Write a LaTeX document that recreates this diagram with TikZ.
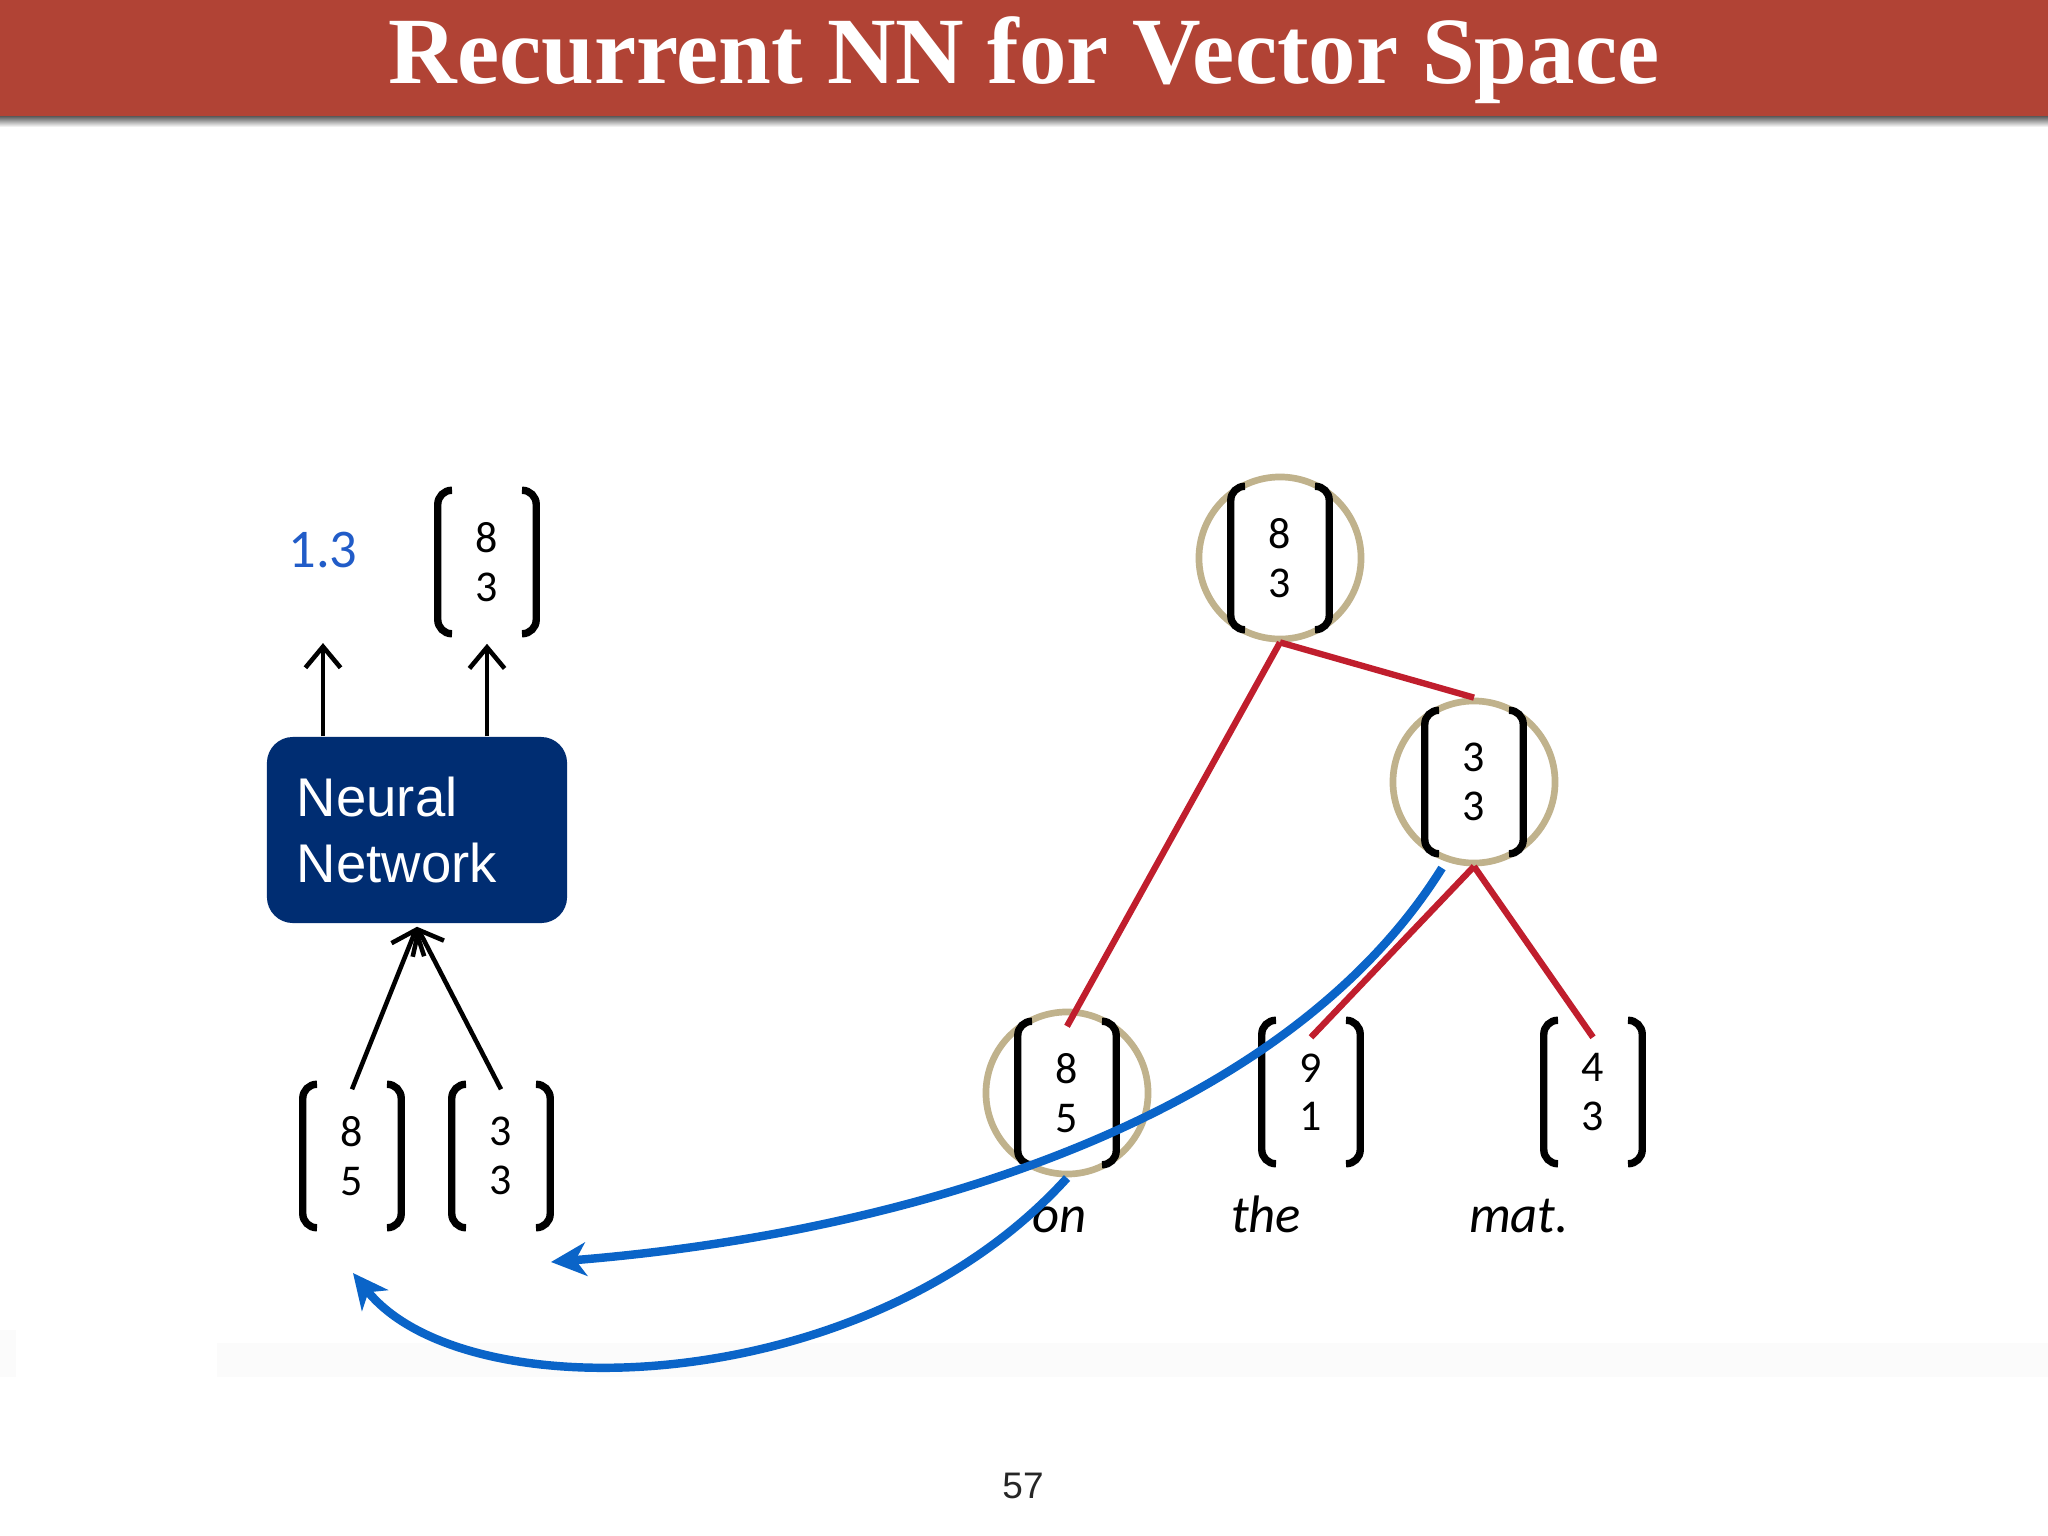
\documentclass[tikz,border=0pt]{standalone}
\usepackage{fontspec}
\setmainfont{Carlito}
\newfontfamily\helv{Liberation Sans}
\newfontfamily\serifbold{Liberation Serif}
\usetikzlibrary{arrows.meta, calc}
\definecolor{titlered}{RGB}{177,67,53}
\definecolor{nnblue}{RGB}{0,45,114}
\definecolor{scoreblue}{RGB}{33,92,200}
\definecolor{feedblue}{RGB}{10,100,200}
\definecolor{treered}{RGB}{192,30,45}
\definecolor{ringtan}{RGB}{192,178,140}

\begin{document}
\begin{tikzpicture}[x=0.01cm, y=-0.01cm, >=Stealth,
  vec/.style={minimum width=0.97cm, minimum height=1.42cm, inner sep=0pt, align=center,
    font=\fontsize{12.5}{13.8}\selectfont},
  brk/.style={line width=2.1pt, rounded corners=4pt},
  ring/.style={circle, draw=ringtan, line width=1.9pt, minimum size=1.62cm, inner sep=0pt},
  edge/.style={treered, line width=1.8pt},
  flow/.style={-{Straight Barb[length=6pt, width=10pt]}, line width=1.3pt},
  feed/.style={-{Stealth[length=10pt, width=9.5pt, inset=3pt]}, feedblue, line width=2.4pt},
  word/.style={anchor=base, font=\itshape\fontsize{15}{18}\selectfont}]
  \useasboundingbox (0,0) rectangle (2048,1536);
  \fill[white] (0,0) rectangle (2048,1536);
  % Title bar
  \fill[titlered] (0,0) rectangle (2048,116);
  \shade[top color=black!65, bottom color=white] (0,116) rectangle (2048,127);
  \node[anchor=base, text=white, font=\serifbold\bfseries\fontsize{27}{31}\selectfont]
    (title) at (1024,83) {Recurrent NN for Vector Space};
  \fill[black!1.5] (217,1343) rectangle (2048,1377);
  \fill[black!1.5] (0,1330) rectangle (16,1377);
  \node[font=\helv\fontsize{10.5}{12}\selectfont, text=black!85] (page) at (1023,1486) {57};

  % Network
  \node[fill=nnblue, rounded corners=0.26cm, minimum width=3cm, minimum height=1.86cm,
    text width=2.4cm, inner xsep=0.3cm, align=left, text=white,
    font=\helv\fontsize{15.5}{18.5}\selectfont] (nn) at (417,830) {Neural\\Network};
  \node[text=scoreblue, font=\fontsize{15.5}{18}\selectfont] (score) at (323,550) {1.3};
  \node[vec] (out83) at (487,562) {8\\3};
  \node[vec] (in85) at (352,1156) {8\\5};
  \node[vec] (in33) at (501,1156) {3\\3};
  \draw[flow] (nn.north -| score) -- ([yshift=-0.93cm]score.center);
  \draw[flow] (nn.north -| out83) -- ([yshift=-0.1cm]out83.south);
  \draw[flow] ([yshift=-0.05cm]in85.north) -- ([yshift=-0.03cm]nn.south);
  \draw[flow] ([yshift=-0.05cm]in33.north) -- ([yshift=-0.03cm]nn.south);

  % Tree
  \node[vec] (root) at (1280,558) {8\\3};
  \node[vec] (mid) at (1474,782) {3\\3};
  \node[vec] (on) at (1067,1093) {8\\5};
  \node[vec] (the) at (1311,1092) {9\\1};
  \node[vec] (mat) at (1593,1092) {4\\3};
  \node[word] (wOn) at (1060,1232) {on};
  \node[word] (wThe) at (1266,1232) {the};
  \node[word] (wMat) at (1519,1232) {mat.};
  \foreach \v in {root,mid,on}{
    \node[ring] (ring\v) at (\v) {};
  }
  \draw[edge] (ringroot.south) -- ([yshift=-0.05cm]on.north);
  \draw[edge] (ringroot.south) -- (ringmid.north);
  \draw[edge] (ringmid.south) -- ([yshift=-0.17cm]the.north);
  \draw[edge] (ringmid.south) -- ([yshift=-0.17cm]mat.north);

  % Brackets
  \foreach \v in {out83,in85,in33,root,mid,on,the,mat}{
    \draw[brk] ([xshift=0.14cm]\v.north west) -- (\v.north west) -- (\v.south west) -- ([xshift=0.14cm]\v.south west);
    \draw[brk] ([xshift=-0.14cm]\v.north east) -- (\v.north east) -- (\v.south east) -- ([xshift=-0.14cm]\v.south east);
  }

  % Feeding back
  \draw[feed] ([shift={(-32,86)}]mid.center) .. controls +(-159,255) and +(350,-28) .. ([shift={(50,106)}]in33.center);
  \draw[feed] ([shift={(0,85)}]on.center) .. controls +(-201,222) and +(112,140) .. ([shift={(1,117)}]in85.center);
\end{tikzpicture}
\end{document}
